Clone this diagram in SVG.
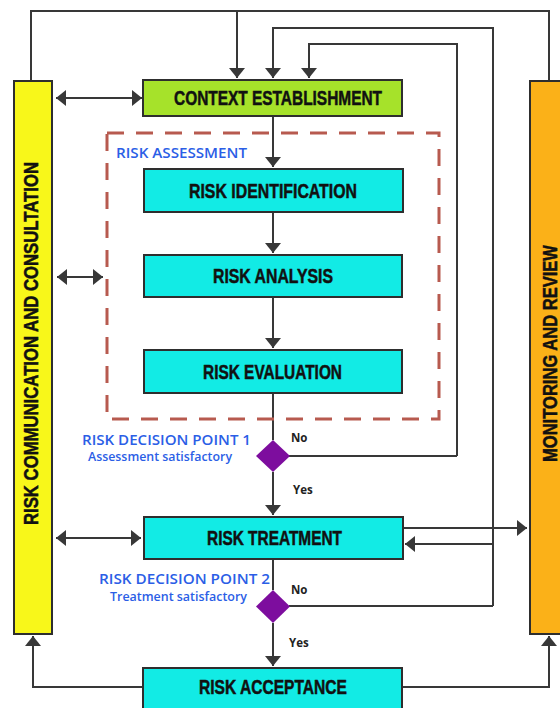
<svg xmlns="http://www.w3.org/2000/svg" width="560" height="708" viewBox="0 0 560 708">
<defs>
<marker id="ah" viewBox="0 0 10 16" refX="10" refY="8" markerWidth="10" markerHeight="16" markerUnits="userSpaceOnUse" orient="auto-start-reverse">
<path d="M0,0 L10,8 L0,16 z" fill="#383838"/>
</marker>
<style>
.box{stroke:#2e2e2e;stroke-width:2}
.cyan{fill:#12ebe5}
.lbl{font-family:"Liberation Sans Narrow","Liberation Sans",Arial,sans-serif;font-weight:bold;font-size:20px;fill:#111;stroke:#111;stroke-width:0.5}
.blue{font-family:"Open Sans","Noto Sans",sans-serif;font-weight:600;fill:#2b5ee6}
.yn{font-family:"Open Sans","Noto Sans",sans-serif;font-weight:bold;font-size:11.5px;fill:#222}
.ln{fill:none;stroke:#383838;stroke-width:2}
.arr{marker-end:url(#ah)}
.dbl{marker-start:url(#ah);marker-end:url(#ah)}
</style>
</defs>
<rect width="560" height="708" fill="#ffffff"/>

<g id="connectors">
<path class="ln" d="M31,81 V11 H549 V81"/>
<path class="ln arr" d="M237,11 V78"/>
<path class="ln arr" d="M493,606 V28 H273 V78"/>
<path class="ln arr" d="M457,456 V44 H309 V78"/>
<path class="ln dbl" d="M56,98 H142"/>
<path class="ln dbl" d="M57,277 H103"/>
<path class="ln dbl" d="M56,538 H141"/>
<path class="ln arr" d="M273,116 V167"/>
<path class="ln arr" d="M273,212 V253"/>
<path class="ln arr" d="M273,297 V348"/>
<path class="ln" d="M273,393 V440"/>
<path class="ln arr" d="M273,472 V515"/>
<path class="ln" d="M289,456 H457"/>
<path class="ln arr" d="M403,528 H527"/>
<path class="ln arr" d="M493,544 H405"/>
<path class="ln" d="M273,559 V590"/>
<path class="ln" d="M289,606 H493"/>
<path class="ln arr" d="M273,623 V666"/>
<path class="ln arr" d="M143,687 H33 V636"/>
<path class="ln arr" d="M402,687 H549 V636"/>
</g>

<g id="risk-assessment">
<rect x="107" y="133" width="332" height="286" fill="none" stroke="#b75a4f" stroke-width="3" stroke-dasharray="17,12"/>
<text class="blue" x="116" y="158" font-size="14" textLength="131" lengthAdjust="spacingAndGlyphs">RISK ASSESSMENT</text>
</g>

<g id="communication">
<rect class="box" x="14" y="81" width="38" height="553" fill="#f8f71a"/>
<text class="lbl" transform="translate(38,343.5) rotate(-90)" text-anchor="middle" textLength="363" lengthAdjust="spacingAndGlyphs">RISK COMMUNICATION AND CONSULTATION</text>
</g>

<g id="monitoring">
<rect class="box" x="530" y="81" width="40" height="553" fill="#fbb118"/>
<text class="lbl" transform="translate(557,353.5) rotate(-90)" text-anchor="middle" textLength="217" lengthAdjust="spacingAndGlyphs">MONITORING AND REVIEW</text>
</g>

<g id="context">
<rect class="box" x="143" y="80" width="259" height="36" fill="#a6e22a"/>
<text class="lbl" x="174" y="105" textLength="208" lengthAdjust="spacingAndGlyphs">CONTEXT ESTABLISHMENT</text>
</g>

<g id="identification">
<rect class="box cyan" x="144" y="169" width="259" height="43"/>
<text class="lbl" x="189" y="198" textLength="168" lengthAdjust="spacingAndGlyphs">RISK IDENTIFICATION</text>
</g>

<g id="analysis">
<rect class="box cyan" x="144" y="255" width="258" height="42"/>
<text class="lbl" x="213" y="283" textLength="120" lengthAdjust="spacingAndGlyphs">RISK ANALYSIS</text>
</g>

<g id="evaluation">
<rect class="box cyan" x="144" y="350" width="258" height="43"/>
<text class="lbl" x="203" y="379" textLength="139" lengthAdjust="spacingAndGlyphs">RISK EVALUATION</text>
</g>

<g id="decision1">
<path d="M273,440 L290,456 L273,472 L256,456 z" fill="#7d0d9e"/>
<text class="blue" x="82" y="445" font-size="15" textLength="169" lengthAdjust="spacingAndGlyphs">RISK DECISION POINT 1</text>
<text class="blue" x="88" y="461" font-size="12" textLength="144" lengthAdjust="spacingAndGlyphs">Assessment satisfactory</text>
<text class="yn" x="291" y="442">No</text>
<text class="yn" x="293" y="494">Yes</text>
</g>

<g id="treatment">
<rect class="box cyan" x="144" y="517" width="259" height="42"/>
<text class="lbl" x="207" y="545" textLength="135" lengthAdjust="spacingAndGlyphs">RISK TREATMENT</text>
</g>

<g id="decision2">
<path d="M273,590 L290,606.5 L273,623 L256,606.5 z" fill="#7d0d9e"/>
<text class="blue" x="99" y="584" font-size="15" textLength="171" lengthAdjust="spacingAndGlyphs">RISK DECISION POINT 2</text>
<text class="blue" x="110" y="601" font-size="12" textLength="137" lengthAdjust="spacingAndGlyphs">Treatment satisfactory</text>
<text class="yn" x="291" y="594">No</text>
<text class="yn" x="289" y="647">Yes</text>
</g>

<g id="acceptance">
<rect class="box cyan" x="143" y="668" width="259" height="50"/>
<text class="lbl" x="199" y="694" textLength="148" lengthAdjust="spacingAndGlyphs">RISK ACCEPTANCE</text>
</g>
</svg>
